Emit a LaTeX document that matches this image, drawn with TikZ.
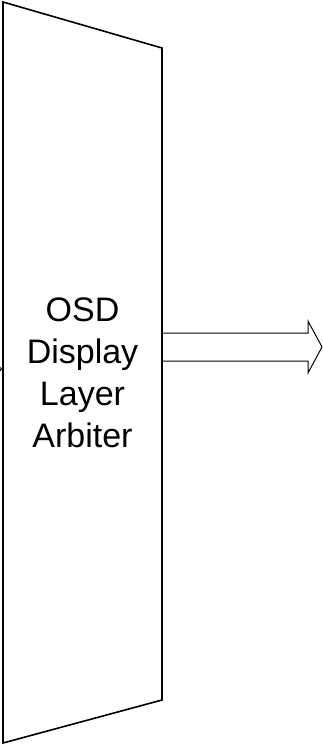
\documentclass[tikz,border=0pt]{standalone}
\usepackage{fontspec}
\setmainfont{Liberation Sans}
\usetikzlibrary{arrows.meta,positioning,calc}

\begin{document}
\begin{tikzpicture}[x=1pt, y=-1pt,
  blk/.style={draw, line width=1.6pt, line join=miter},
  outarr/.style={draw, line width=1pt, line join=miter},
  inarr/.style={-{Straight Barb[length=6pt, width=14pt]}, line width=0.7pt},
  lbl/.style={font=\fontsize{34}{42}\selectfont, align=center, inner sep=0pt},
]
\useasboundingbox (0,0) rectangle (323,745);
% arbiter block
\coordinate (tl) at (3,2);
\coordinate (tr) at (162,48);
\coordinate (br) at (162,700);
\coordinate (bl) at (3,743);
\draw[blk] (tl) -- (tr) -- (br) -- (bl) -- cycle;
\node[lbl] (arb) at (82.5,373) {OSD\\Display\\Layer\\Arbiter};
% output arrow
\coordinate (o1) at (162,333);
\coordinate (o2) at (308,333);
\coordinate (o3) at (308,321);
\coordinate (tip) at (322,347);
\coordinate (o4) at (308,373);
\coordinate (o5) at (308,361);
\coordinate (o6) at (162,361);
\draw[outarr] (o1) -- (o2) -- (o3) -- (tip) -- (o4) -- (o5) -- (o6);
% input from the left (cut off)
\coordinate (src) at (-30,369);
\coordinate (dst) at (2,369);
\draw[inarr] (src) -- (dst);
\end{tikzpicture}
\end{document}
